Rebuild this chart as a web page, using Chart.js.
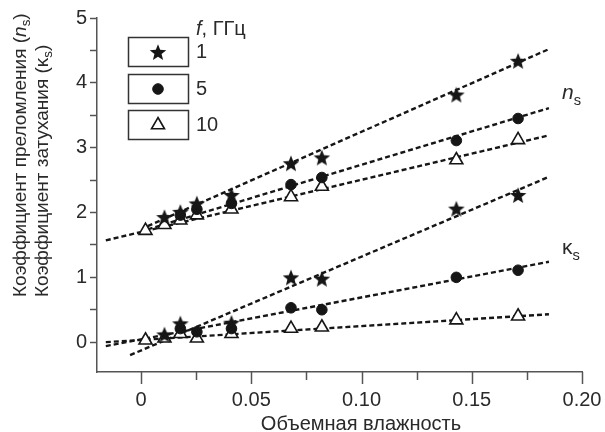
<!DOCTYPE html>
<html>
<head>
<meta charset="utf-8">
<script src="https://cdn.jsdelivr.net/npm/chart.js@4"></script>
<style>
    html, body { margin: 0; background: #fff; }
</style>
</head>
<body>
<canvas id="chart" width="605" height="432"></canvas>
<script>
// Volumetric moisture (x) for every measured sample
const moisture = [0.002, 0.0106, 0.0178, 0.0253, 0.041, 0.068, 0.082, 0.143, 0.171];

// Refraction index n_s per frequency (null = hidden behind another marker)
const n1GHz = [null, 1.93, 2.01, 2.14, 2.27, 2.76, 2.85, 3.82, 4.34];
const n5GHz = [null, null, 1.96, 2.05, 2.14, 2.43, 2.54, 3.11, 3.45];
const n10GHz = [1.72, 1.81, 1.88, 1.96, 2.05, 2.24, 2.40, 2.81, 3.12];

// Attenuation coefficient kappa_s per frequency
const k1GHz = [null, 0.12, 0.29, null, 0.30, 1.00, 0.98, 2.06, 2.27];
const k5GHz = [null, null, 0.21, 0.16, 0.21, 0.53, 0.50, 1.00, 1.11];
const k10GHz = [0.03, 0.06, 0.13, 0.06, 0.13, 0.21, 0.23, 0.34, 0.40];

// Dashed linear fits: [x, y] start and end
const fitN1 = [[0.003, 1.79], [0.185, 4.52]];
const fitN5 = [[0.003, 1.74], [0.185, 3.61]];
const fitN10 = [[-0.016, 1.57], [0.185, 3.19]];
const fitK1 = [[-0.005, -0.20], [0.185, 2.55]];
const fitK5 = [[-0.016, -0.06], [0.185, 1.24]];
const fitK10 = [[-0.016, 0.00], [0.185, 0.43]];

const freqLabels = ["1", "5", "10"];
const xTickValues = [0, 0.025, 0.05, 0.075, 0.1, 0.125, 0.15, 0.175, 0.2];
const xTickLabels = ["0", "", "0.05", "", "0.10", "", "0.15", "", "0.20"];
const yTickValues = [0, 0.5, 1, 1.5, 2, 2.5, 3, 3.5, 4, 4.5, 5];
const yTickLabels = ["0", "", "1", "", "2", "", "3", "", "4", "", "5"];

const FONT = '"Liberation Sans", Arial, sans-serif';
const INK = "#161616";
const AXIS = "#555";
const TEXT = "#2a2a2a";

// Filled five-point star used as a marker image
function makeStar(size) {
    const c = document.createElement("canvas");
    c.width = c.height = size;
    const g = c.getContext("2d");
    const cx = size / 2, cy = size / 2 + 0.9;
    const R = size / 2 - 0.3, r = R * 0.43;
    g.beginPath();
    for (let i = 0; i < 10; i++) {
        const a = -Math.PI / 2 + i * Math.PI / 5;
        const rr = i % 2 ? r : R;
        g.lineTo(cx + rr * Math.cos(a), cy + rr * Math.sin(a));
    }
    g.closePath();
    g.fillStyle = INK;
    g.fill();
    return c;
}
const starImg = makeStar(18);

const markers = [
    { pointStyle: starImg, radius: 9, backgroundColor: INK, borderColor: INK, borderWidth: 0 },
    { pointStyle: "circle", radius: 5.3, backgroundColor: INK, borderColor: INK, borderWidth: 1 },
    { pointStyle: "triangle", radius: 7.5, backgroundColor: "#fff", borderColor: INK, borderWidth: 1.6 }
];

function points(ys) {
    return moisture.map((x, i) => ({ x: x, y: ys[i] })).filter(p => p.y !== null);
}

function pointSet(ys, m) {
    return {
        type: "scatter",
        data: points(ys),
        pointStyle: m.pointStyle,
        pointRadius: m.radius,
        pointHoverRadius: m.radius,
        pointBackgroundColor: m.backgroundColor,
        pointBorderColor: m.borderColor,
        pointBorderWidth: m.borderWidth,
        showLine: false,
        order: 0
    };
}

function fitSet(seg) {
    return {
        type: "line",
        data: seg.map(p => ({ x: p[0], y: p[1] })),
        borderColor: INK,
        borderWidth: 2.4,
        borderDash: [5, 3],
        pointRadius: 0,
        fill: false,
        order: 5
    };
}

// Draw a run of text pieces (italic / subscript) one after another
function drawRich(ctx, parts, x, y, size) {
    let cx = x;
    parts.forEach((p) => {
        const fs = p.sub ? size * 0.7 : size;
        ctx.font = `${p.it ? "italic " : ""}${fs}px ${FONT}`;
        ctx.fillText(p.t, cx, y + (p.sub ? size * 0.28 : 0));
        cx += ctx.measureText(p.t).width;
    });
}

const decorPlugin = {
    id: "decor",
    afterDraw(chart) {
        const ctx = chart.ctx;
        const xs = chart.scales.x;
        const area = chart.chartArea;
        ctx.save();

        // x-axis tick marks, majors longer than minors
        ctx.strokeStyle = AXIS;
        ctx.lineWidth = 1.5;
        xTickValues.forEach((v, i) => {
            const px = Math.round(xs.getPixelForValue(v)) + 0.5;
            const len = xTickLabels[i] ? 12 : 8;
            ctx.beginPath();
            ctx.moveTo(px, area.bottom);
            ctx.lineTo(px, area.bottom + len);
            ctx.stroke();
        });

        ctx.fillStyle = TEXT;
        ctx.textBaseline = "middle";

        // x title
        ctx.textAlign = "center";
        ctx.font = `20px ${FONT}`;
        ctx.fillText("Объемная влажность", 361, 424);

        // y title, two rotated lines starting from the same point
        ctx.textAlign = "left";
        ctx.save();
        ctx.translate(21, 297);
        ctx.rotate(-Math.PI / 2);
        drawRich(ctx, [{ t: "Коэффициент преломления (" }, { t: "n", it: true }, { t: "s", sub: true }, { t: ")" }], 0, 0, 19);
        ctx.restore();
        ctx.save();
        ctx.translate(43, 297);
        ctx.rotate(-Math.PI / 2);
        drawRich(ctx, [{ t: "Коэффициент затухания (" }, { t: "κ" }, { t: "s", sub: true }, { t: ")" }], 0, 0, 19);
        ctx.restore();

        // series labels on the right
        ctx.textBaseline = "alphabetic";
        drawRich(ctx, [{ t: "n", it: true }, { t: "s", sub: true }], 562, 99, 21);
        drawRich(ctx, [{ t: "κ" }, { t: "s", sub: true }], 562, 254, 21);

        // legend
        ctx.textBaseline = "middle";
        drawRich(ctx, [{ t: "f", it: true }, { t: ", ГГц" }], 196, 29, 20);
        const rows = [52, 89, 125];
        rows.forEach((cy, i) => {
            ctx.strokeStyle = "#333";
            ctx.lineWidth = 1.5;
            ctx.strokeRect(128.5, cy - 14.5, 60, 29);
            const m = markers[i];
            ctx.fillStyle = m.backgroundColor;
            ctx.strokeStyle = m.borderColor;
            ctx.lineWidth = m.borderWidth;
            Chart.helpers.drawPoint(ctx, { pointStyle: m.pointStyle, radius: m.radius, borderWidth: m.borderWidth }, 158, cy);
            ctx.fillStyle = TEXT;
            ctx.font = `20px ${FONT}`;
            ctx.fillText(freqLabels[i], 196, cy);
        });

        ctx.restore();
    }
};

const ctx = document.getElementById("chart").getContext("2d");

new Chart(ctx, {
    data: {
        datasets: [
            fitSet(fitN1), fitSet(fitN5), fitSet(fitN10),
            fitSet(fitK1), fitSet(fitK5), fitSet(fitK10),
            pointSet(n1GHz, markers[0]), pointSet(k1GHz, markers[0]),
            pointSet(n5GHz, markers[1]), pointSet(k5GHz, markers[1]),
            pointSet(n10GHz, markers[2]), pointSet(k10GHz, markers[2])
        ]
    },
    options: {
        responsive: false,
        animation: false,
        layout: { padding: { top: 18, right: 23, left: 0, bottom: 0 } },
        plugins: {
            legend: { display: false },
            tooltip: { enabled: false }
        },
        scales: {
            x: {
                type: "linear",
                min: -0.02,
                max: 0.2,
                afterBuildTicks: (s) => { s.ticks = xTickValues.map(v => ({ value: v })); },
                afterFit: (s) => {
                    s.height = 60;
                    s.paddingLeft = 0;
                    s.paddingRight = 0;
                },
                grid: { drawOnChartArea: false, drawTicks: false },
                border: { color: AXIS, width: 1.5 },
                ticks: {
                    autoSkip: false,
                    maxRotation: 0,
                    padding: 16,
                    color: TEXT,
                    font: { family: FONT, size: 20 },
                    callback: (v, i) => xTickLabels[i]
                }
            },
            y: {
                type: "linear",
                min: -0.46,
                max: 5,
                afterBuildTicks: (s) => { s.ticks = yTickValues.map(v => ({ value: v })); },
                afterFit: (s) => {
                    s.width = 97;
                    s.paddingTop = 0;
                    s.paddingBottom = 0;
                },
                grid: { drawOnChartArea: false, drawTicks: true, tickLength: 7, tickColor: AXIS, tickWidth: 1.5 },
                border: { color: AXIS, width: 1.5 },
                ticks: {
                    autoSkip: false,
                    padding: 3,
                    color: TEXT,
                    font: { family: FONT, size: 20 },
                    callback: (v, i) => yTickLabels[i]
                }
            }
        }
    },
    plugins: [decorPlugin]
});
</script>
</body>
</html>
